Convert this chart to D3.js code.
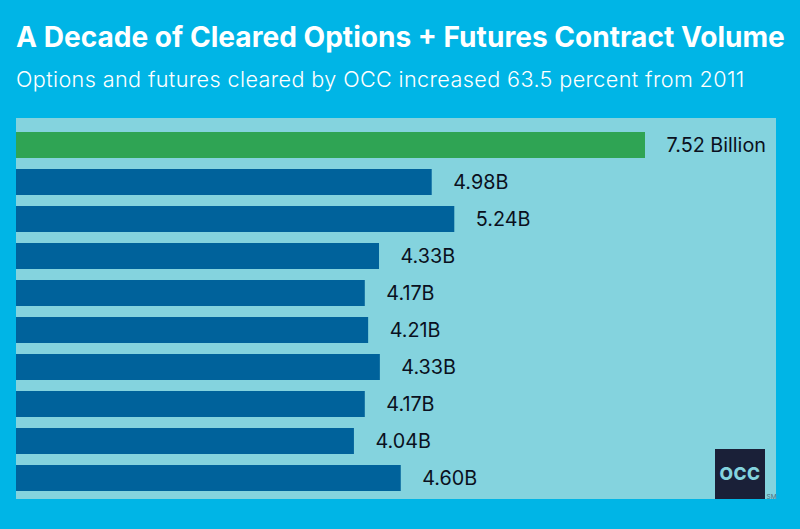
<!DOCTYPE html>
<html lang="en">
<head>
  <meta charset="utf-8">
  <title>A Decade of Cleared Options + Futures Contract Volume</title>
  <script src="https://d3js.org/d3.v7.min.js"></script>
  <style>
    html, body { margin: 0; padding: 0; background: #00b5e6; }
    svg { display: block; font-family: Inter, sans-serif; }
    #chartTitle { font-size: 28.1px; font-weight: 700; fill: #fff; }
    #chartSubtitle { font-size: 21.6px; font-weight: 300; letter-spacing: 0.39px; fill: #fff; }
    .value { font-size: 19.8px; fill: #0a1020; }
  </style>
</head>
<body>
  <script>
    // Data, top bar is the latest year
    const years = [2020, 2019, 2018, 2017, 2016, 2015, 2014, 2013, 2012, 2011];
    const volumes = [7.52, 4.97, 5.24, 4.34, 4.17, 4.21, 4.35, 4.17, 4.04, 4.60];
    const valueLabels = ["7.52 Billion", "4.98B", "5.24B", "4.33B", "4.17B", "4.21B", "4.33B", "4.17B", "4.04B", "4.60B"];
    const highlightYear = 2020;

    const width = 800, height = 529;
    const panel = { left: 16, right: 776, top: 118, bottom: 499 };

    const svg = d3.select("body").append("svg")
      .attr("width", width).attr("height", height);

    svg.append("rect")
      .attr("width", width).attr("height", height)
      .attr("fill", "#00b5e6");

    svg.append("text").attr("id", "chartTitle")
      .attr("x", 16).attr("y", 46.5)
      .text("A Decade of Cleared Options + Futures Contract Volume");
    svg.append("text").attr("id", "chartSubtitle")
      .attr("x", 16).attr("y", 87)
      .text("Options and futures cleared by OCC increased 63.5 percent from 2011");

    svg.append("rect")
      .attr("x", panel.left).attr("y", panel.top)
      .attr("width", panel.right - panel.left)
      .attr("height", panel.bottom - panel.top)
      .attr("fill", "#84d3de");

    const xScale = d3.scaleLinear()
      .domain([0, 7.52])
      .range([panel.left, 645]);
    const yScale = d3.scaleBand()
      .domain(years)
      .range([132, 491])
      .paddingInner(11 / 37);

    const rows = years.map((year, i) => ({ year, value: volumes[i], label: valueLabels[i] }));

    const bar = svg.selectAll("g.bar").data(rows).enter().append("g")
      .classed("bar", true)
      .attr("transform", d => `translate(0, ${yScale(d.year)})`);

    bar.append("rect")
      .attr("x", xScale(0))
      .attr("width", d => xScale(d.value) - xScale(0))
      .attr("height", yScale.bandwidth())
      .attr("fill", d => d.year === highlightYear ? "#2fa454" : "#00629b");

    bar.append("text").classed("value", true)
      .attr("x", d => xScale(d.value) + 21.5)
      .attr("y", yScale.bandwidth() / 2)
      .attr("dy", "0.35em")
      .text(d => d.label);

    // logo
    const logo = svg.append("g").attr("transform", "translate(715, 449)");
    logo.append("rect").attr("width", 50).attr("height", 50).attr("fill", "#1a2038");
    logo.append("text")
      .attr("x", 25).attr("y", 31)
      .attr("text-anchor", "middle")
      .attr("font-size", 17.5).attr("font-weight", 800)
      .attr("letter-spacing", "0.5")
      .attr("fill", "#84d3de")
      .text("OCC");
    svg.append("text")
      .attr("x", 766.5).attr("y", 498.5)
      .attr("font-size", 6.5).attr("fill", "#4b6f80")
      .text("SM");
  </script>
</body>
</html>
